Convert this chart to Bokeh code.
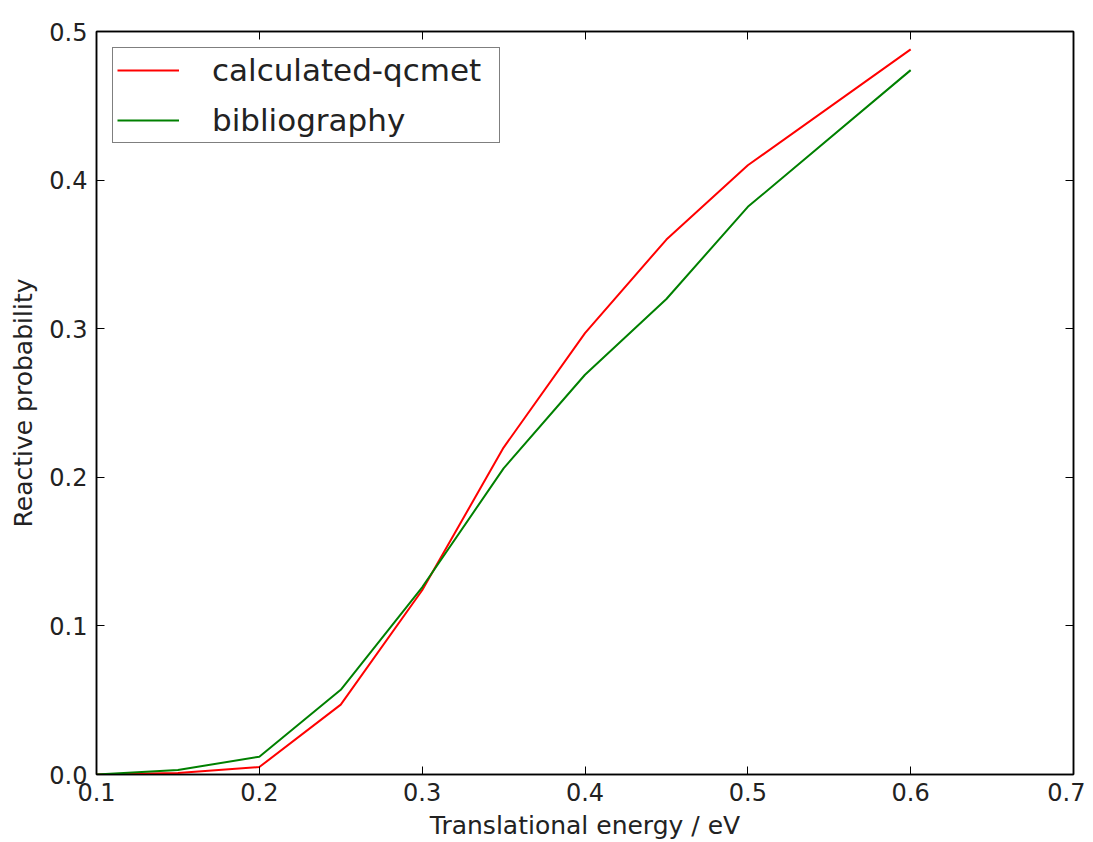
from bokeh.plotting import figure
from bokeh.models import (FixedTicker, PrintfTickFormatter, LinearAxis, Range1d, Legend, LegendItem)
from bokeh.embed import file_html
from bokeh.resources import INLINE

# Data
energy = [0.1, 0.15, 0.2, 0.25, 0.3, 0.35, 0.4, 0.45, 0.5, 0.6]
calculated_qcmet = [0.0, 0.001, 0.005, 0.047, 0.124, 0.220, 0.297, 0.360, 0.410, 0.488]
bibliography = [0.0, 0.003, 0.012, 0.057, 0.126, 0.206, 0.269, 0.320, 0.382, 0.474]
x_ticks = [0.1, 0.2, 0.3, 0.4, 0.5, 0.6, 0.7]
y_ticks = [0.0, 0.1, 0.2, 0.3, 0.4, 0.5]

FONT = "DejaVu Sans"

p = figure(width=1085, height=842, output_backend="svg", toolbar_location=None,
           x_range=Range1d(0.1, 0.7), y_range=Range1d(0.0, 0.5),
           min_border_left=96, min_border_right=12, min_border_top=31, min_border_bottom=63)
p.background_fill_color = "white"
p.border_fill_color = "white"
p.outline_line_color = "black"
p.outline_line_width = 1.5
p.grid.visible = False

r1 = p.line(energy, calculated_qcmet, line_color="#ff0000", line_width=2)
r2 = p.line(energy, bibliography, line_color="#008000", line_width=2)

def style(ax):
    ax.axis_line_color = "black"
    ax.axis_line_width = 1.5
    ax.major_tick_in = 8
    ax.major_tick_out = 0
    ax.minor_tick_in = 0
    ax.minor_tick_out = 0
    ax.major_tick_line_color = "black"
    ax.major_tick_line_width = 1
    ax.major_label_text_font = FONT
    ax.major_label_text_font_size = "24px"
    ax.major_label_text_line_height = 1.0
    ax.major_label_text_color = "#222222"
    ax.axis_label_text_font = FONT
    ax.axis_label_text_font_size = "25px"
    ax.axis_label_text_line_height = 1.0
    ax.axis_label_text_font_style = "normal"
    ax.axis_label_text_color = "#222222"

p.xaxis.ticker = FixedTicker(ticks=x_ticks)
p.yaxis.ticker = FixedTicker(ticks=y_ticks)
p.xaxis.formatter = PrintfTickFormatter(format="%.1f")
p.yaxis.formatter = PrintfTickFormatter(format="%.1f")
style(p.xaxis[0])
style(p.yaxis[0])
p.xaxis.axis_label = "Translational energy / eV"
p.yaxis.axis_label = "Reactive probability"
p.xaxis.major_label_standoff = 8
p.yaxis.major_label_standoff = 9
p.xaxis.axis_label_standoff = 7
p.yaxis.axis_label_standoff = 8

top = LinearAxis(ticker=FixedTicker(ticks=x_ticks), major_label_overrides={t: "" for t in x_ticks})
right = LinearAxis(ticker=FixedTicker(ticks=y_ticks), major_label_overrides={t: "" for t in y_ticks})
style(top)
style(right)
top.major_label_standoff = 0
right.major_label_standoff = 0
p.add_layout(top, "above")
p.add_layout(right, "right")

legend = Legend(items=[LegendItem(label="calculated-qcmet", renderers=[r1]),
                       LegendItem(label="bibliography", renderers=[r2])],
                location="top_left")
legend.margin = 16
legend.padding = 4
legend.spacing = 14
legend.glyph_width = 62
legend.glyph_height = 24
legend.label_height = 24
legend.label_width = 283
legend.label_standoff = 33
legend.label_text_font = FONT
legend.label_text_font_size = "31px"
legend.label_text_line_height = 0.8
legend.label_text_color = "#222222"
legend.border_line_color = "black"
legend.border_line_width = 1.5
legend.background_fill_alpha = 1
p.add_layout(legend, "center")

open("out.html", "w").write(file_html(p, INLINE))
